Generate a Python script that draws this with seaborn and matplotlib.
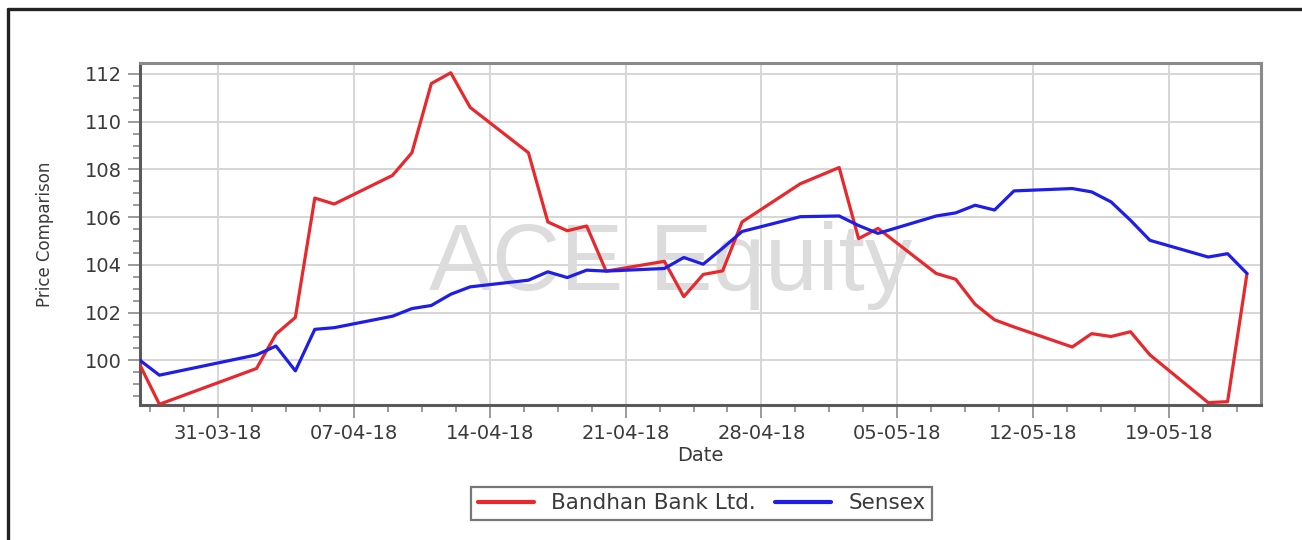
import matplotlib
matplotlib.use("Agg")
import matplotlib.pyplot as plt
import matplotlib.dates as mdates
from matplotlib.ticker import FixedLocator, MultipleLocator
from matplotlib.lines import Line2D
import numpy as np
import pandas as pd
import seaborn as sns

# ---------------- data ----------------
dates = [
    "27-03-2018", "28-03-2018", "02-04-2018", "03-04-2018", "04-04-2018", "05-04-2018",
    "06-04-2018", "09-04-2018", "10-04-2018", "11-04-2018", "12-04-2018", "13-04-2018",
    "16-04-2018", "17-04-2018", "18-04-2018", "19-04-2018", "20-04-2018", "23-04-2018",
    "24-04-2018", "25-04-2018", "26-04-2018", "27-04-2018", "30-04-2018", "02-05-2018",
    "03-05-2018", "04-05-2018", "07-05-2018", "08-05-2018", "09-05-2018", "10-05-2018",
    "11-05-2018", "14-05-2018", "15-05-2018", "16-05-2018", "17-05-2018", "18-05-2018",
    "21-05-2018", "22-05-2018", "23-05-2018",
]
bandhan = [
    99.8, 98.16, 99.66, 101.1, 101.8, 106.8,
    106.55, 107.75, 108.7, 111.6, 112.05, 110.6,
    108.7, 105.8, 105.43, 105.63, 103.74, 104.15,
    102.67, 103.6, 103.75, 105.8, 107.4, 108.08,
    105.1, 105.53, 103.64, 103.4, 102.35, 101.7,
    101.4, 100.56, 101.12, 101.0, 101.2, 100.23,
    98.23, 98.27, 103.64,
]
sensex = [
    100.0, 99.38, 100.23, 100.6, 99.56, 101.3,
    101.37, 101.85, 102.17, 102.3, 102.77, 103.08,
    103.36, 103.71, 103.47, 103.78, 103.74, 103.85,
    104.31, 104.03, 104.7, 105.4, 106.02, 106.05,
    105.65, 105.32, 106.05, 106.18, 106.5, 106.3,
    107.1, 107.2, 107.06, 106.64, 105.87, 105.03,
    104.33, 104.47, 103.64,
]
series_names = ["Bandhan Bank Ltd.", "Sensex"]
major_dates = ["31-03-2018", "07-04-2018", "14-04-2018", "21-04-2018",
               "28-04-2018", "05-05-2018", "12-05-2018", "19-05-2018"]
y_ticks = [100, 102, 104, 106, 108, 110, 112]

palette = {"Bandhan Bank Ltd.": "#e8282c", "Sensex": "#1e1ee8"}

# ---------------- style ----------------
sns.set_style("white")
plt.rcParams["font.family"] = ["DejaVu Sans"]

fig = plt.figure(figsize=(13.02, 5.40), dpi=100)
ax = fig.add_axes([140 / 1302, 135 / 540, 1121 / 1302, 342 / 540])

n = len(dates)
df = pd.DataFrame({
    "Date": pd.to_datetime(dates * 2, format="%d-%m-%Y"),
    "Value": bandhan + sensex,
    "Series": [series_names[0]] * n + [series_names[1]] * n,
})
sns.lineplot(data=df, x="Date", y="Value", hue="Series", palette=palette,
             linewidth=2.3, ax=ax, legend=False, sort=False, zorder=3)

# axis limits
x0 = mdates.date2num(pd.Timestamp("2018-03-27"))
x1 = mdates.date2num(pd.Timestamp("2018-05-23")) + 0.72
ax.set_xlim(x0, x1)
ax.set_ylim(98.13, 112.46)

# ticks
majors = [mdates.date2num(pd.to_datetime(d, format="%d-%m-%Y")) for d in major_dates]
minors = []
for m in [majors[0] - 7] + majors:
    for k in range(1, 4):
        v = m + k * 1.75
        if x0 - 1e-6 <= v <= x1:
            minors.append(v)
ax.xaxis.set_major_locator(FixedLocator(majors))
ax.xaxis.set_minor_locator(FixedLocator(minors))
ax.xaxis.set_major_formatter(mdates.DateFormatter("%d-%m-%y"))
ax.set_yticks(y_ticks)
ax.yaxis.set_minor_locator(MultipleLocator(0.5))

ax.tick_params(axis="both", which="both", bottom=True, left=True, top=False, right=False)
ax.tick_params(axis="both", which="major", length=9, width=1.2, color="#8a8a8a",
               labelsize=14, labelcolor="#3a3a3a", direction="out", pad=4)
ax.tick_params(axis="both", which="minor", length=5, width=1.2, color="#8a8a8a",
               direction="out")
ax.tick_params(axis="x", which="major", pad=5)

ax.grid(True, which="major", color="#d6d6d6", linewidth=1.4, zorder=0)
ax.set_axisbelow(True)

for s in ax.spines.values():
    s.set_visible(True)
    s.set_color("#5a5a5a")
    s.set_linewidth(2.2)
ax.spines["top"].set_color("#8a8a8a")
ax.spines["right"].set_color("#8a8a8a")

ax.set_xlabel("Date", fontsize=14, color="#3a3a3a", labelpad=2)
ax.set_ylabel("Price Comparison", fontsize=12, color="#3a3a3a", labelpad=22)

# watermark
ax.text(0.473, 0.336, "ACE Equity", transform=ax.transAxes, ha="center",
        va="baseline", fontsize=68, color="#dcdcdc", family="Liberation Sans",
        zorder=1)

# legend
handles = [Line2D([0], [0], color=palette[s], lw=3) for s in series_names]
leg = ax.legend(handles, series_names, loc="center", bbox_to_anchor=(0.501, -0.287),
                ncol=2, frameon=True, fancybox=False, edgecolor="#555555",
                fontsize=15.5, handlelength=2.6, columnspacing=0.9,
                handletextpad=0.8, borderpad=0.3, labelcolor="#3a3a3a")
leg.get_frame().set_linewidth(1.6)

# outer frame (left and top edges)
fig.add_artist(Line2D([8 / 1302, 8 / 1302], [0, 1 - 9 / 540],
                      transform=fig.transFigure, color="#222222", lw=2.4))
fig.add_artist(Line2D([8 / 1302, 1], [1 - 9 / 540, 1 - 9 / 540],
                      transform=fig.transFigure, color="#222222", lw=2.4))

fig.savefig("out.png", dpi=100)
